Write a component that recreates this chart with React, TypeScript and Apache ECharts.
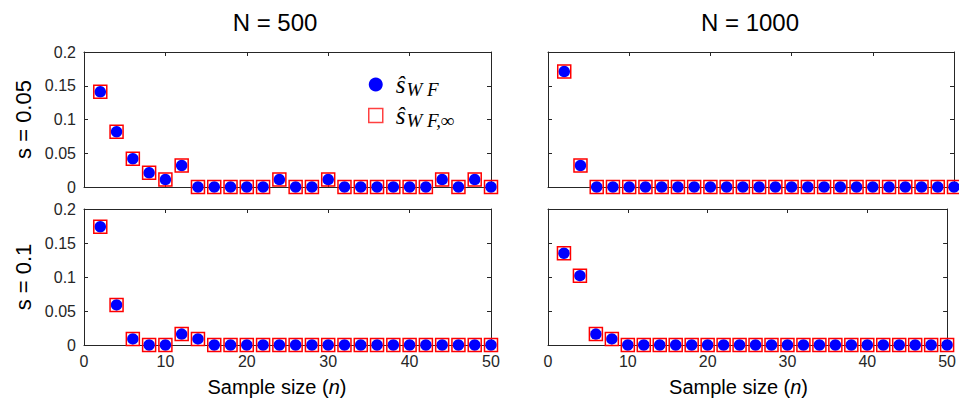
import React, { useEffect, useRef } from 'react';
import * as echarts from 'echarts';

// Sample sizes n (x values shared by every panel)
const sampleSizes = [2, 4, 6, 8, 10, 12, 14, 16, 18, 20, 22, 24, 26, 28, 30, 32, 34, 36, 38, 40, 42, 44, 46, 48, 50];

// Estimates ŝ_WF per panel
const wfN500s005 = [0.141, 0.082, 0.042, 0.021, 0.011, 0.032, 0, 0, 0, 0, 0, 0.011, 0, 0, 0.011, 0, 0, 0, 0, 0, 0, 0.011, 0, 0.011, 0];
const wfN1000s005 = [0.171, 0.032, 0, 0, 0, 0, 0, 0, 0, 0, 0, 0, 0, 0, 0, 0, 0, 0, 0, 0, 0, 0, 0, 0, 0];
const wfN500s01 = [0.174, 0.059, 0.009, 0, 0, 0.016, 0.009, 0, 0, 0, 0, 0, 0, 0, 0, 0, 0, 0, 0, 0, 0, 0, 0, 0, 0];
const wfN1000s01 = [0.135, 0.102, 0.016, 0.009, 0, 0, 0, 0, 0, 0, 0, 0, 0, 0, 0, 0, 0, 0, 0, 0, 0, 0, 0, 0, 0];

// Estimates ŝ_WF,∞ per panel (coincide with ŝ_WF in the figure)
const wfInfN500s005 = [0.141, 0.082, 0.042, 0.021, 0.011, 0.032, 0, 0, 0, 0, 0, 0.011, 0, 0, 0.011, 0, 0, 0, 0, 0, 0, 0.011, 0, 0.011, 0];
const wfInfN1000s005 = [0.171, 0.032, 0, 0, 0, 0, 0, 0, 0, 0, 0, 0, 0, 0, 0, 0, 0, 0, 0, 0, 0, 0, 0, 0, 0];
const wfInfN500s01 = [0.174, 0.059, 0.009, 0, 0, 0.016, 0.009, 0, 0, 0, 0, 0, 0, 0, 0, 0, 0, 0, 0, 0, 0, 0, 0, 0, 0];
const wfInfN1000s01 = [0.135, 0.102, 0.016, 0.009, 0, 0, 0, 0, 0, 0, 0, 0, 0, 0, 0, 0, 0, 0, 0, 0, 0, 0, 0, 0, 0];

const columnTitles = ['N = 500', 'N = 1000'];
const rowTitles = ['s = 0.05', 's = 0.1'];

const AX = '#262626';
const SANS = '"Liberation Sans", Arial, Helvetica, sans-serif';
const SERIF = '"Liberation Serif", "DejaVu Serif", serif';

export default function App() {
  const ref = useRef<HTMLDivElement>(null);

  useEffect(() => {
    if (!ref.current) return;
    const chart = echarts.init(ref.current, null, { renderer: 'svg' });

    const panels = [
      { left: 84, top: 52, width: 407, height: 135, wf: wfN500s005, inf: wfInfN500s005, col: 0, row: 0 },
      { left: 548, top: 52, width: 406, height: 135, wf: wfN1000s005, inf: wfInfN1000s005, col: 1, row: 0 },
      { left: 84, top: 209, width: 407, height: 136, wf: wfN500s01, inf: wfInfN500s01, col: 0, row: 1 },
      { left: 548, top: 209, width: 406, height: 136, wf: wfN1000s01, inf: wfInfN1000s01, col: 1, row: 1 },
    ];

    const titlePad = [[0, 25, 0, 0], [0, 2, 0, 0]];
    const xNamePad = [[0, 21, 0, 0], [0, 18, 0, 0]];

    const grids: any[] = [];
    const xAxes: any[] = [];
    const yAxes: any[] = [];
    const series: any[] = [];

    const axisLine = { show: true, onZero: false, lineStyle: { color: AX, width: 1 } };
    const axisTick = { show: true, inside: true, length: 4, lineStyle: { color: AX, width: 1 } };
    const axisLabel = { show: true, color: AX, fontSize: 16, fontFamily: SANS, margin: 8 };

    panels.forEach((p, i) => {
      grids.push({ left: p.left, top: p.top, width: p.width, height: p.height, containLabel: false });
      // bottom x axis
      xAxes.push({
        type: 'value', gridIndex: i, position: 'bottom', min: 0, max: 50, interval: 10,
        axisLine, axisTick,
        axisLabel: { ...axisLabel, show: p.row === 1 },
        splitLine: { show: false },
        name: p.row === 1 ? '{a|Sample size (}{i|n}{a|)}' : '',
        nameLocation: 'middle', nameGap: 32,
        nameTextStyle: {
          padding: xNamePad[p.col],
          rich: {
            a: { fontSize: 20, fontFamily: SANS, color: '#000' },
            i: { fontSize: 20, fontFamily: SANS, fontStyle: 'italic', color: '#000' },
          },
        },
      });
      // top x axis (mirror)
      xAxes.push({
        type: 'value', gridIndex: i, position: 'top', min: 0, max: 50, interval: 10,
        axisLine, axisTick, axisLabel: { show: false }, splitLine: { show: false },
        name: p.row === 0 ? columnTitles[p.col] : '',
        nameLocation: 'middle', nameGap: 18,
        nameTextStyle: { fontSize: 24, fontFamily: SANS, color: '#000', padding: titlePad[p.col] },
      });
      // left y axis
      yAxes.push({
        type: 'value', gridIndex: i, position: 'left', min: 0, max: 0.2, interval: 0.05,
        axisLine, axisTick,
        axisLabel: { ...axisLabel, show: p.col === 0 },
        splitLine: { show: false },
        name: p.col === 0 ? rowTitles[p.row] : '',
        nameLocation: 'middle', nameGap: 50,
        nameTextStyle: { fontSize: 22, fontFamily: SANS, color: '#000' },
      });
      // right y axis (mirror)
      yAxes.push({
        type: 'value', gridIndex: i, position: 'right', min: 0, max: 0.2, interval: 0.05,
        axisLine, axisTick, axisLabel: { show: false }, splitLine: { show: false },
      });

      series.push({
        type: 'scatter', name: 'wf', xAxisIndex: 2 * i, yAxisIndex: 2 * i,
        symbol: 'circle', symbolSize: 11.5, clip: false, z: 4,
        itemStyle: { color: '#0000FF', opacity: 1 },
        data: sampleSizes.map((n, k) => [n, p.wf[k]]),
      });
      series.push({
        type: 'scatter', name: 'wfinf', xAxisIndex: 2 * i, yAxisIndex: 2 * i,
        symbol: 'rect', symbolSize: 13, clip: false, z: 5,
        itemStyle: { color: 'rgba(0,0,0,0)', borderColor: '#FF0000', borderWidth: 1.5, opacity: 1 },
        data: sampleSizes.map((n, k) => [n, p.inf[k]]),
      });
    });

    chart.setOption({
      animation: false,
      backgroundColor: '#fff',
      grid: grids,
      xAxis: xAxes,
      yAxis: yAxes,
      series,
      legend: {
        show: true,
        orient: 'vertical',
        left: 368,
        top: 70,
        padding: 0,
        itemGap: 2,
        itemWidth: 14,
        itemHeight: 14,
        selectedMode: false,
        data: [
          { name: 'wf', icon: 'circle', itemStyle: { color: '#0000FF', borderWidth: 0 } },
          { name: 'wfinf', icon: 'rect', itemStyle: { color: 'rgba(0,0,0,0)', borderColor: '#FF4040', borderWidth: 1.5 } },
        ],
        formatter: (name: string) =>
          name === 'wf' ? '{s|ŝ}{sub|W F}' : '{s|ŝ}{sub|W F,∞}',
        textStyle: {
          rich: {
            s: { fontFamily: SERIF, fontStyle: 'italic', fontSize: 25, lineHeight: 26, color: '#000', padding: [0, 1, 0, 8] },
            sub: { fontFamily: SERIF, fontStyle: 'italic', fontSize: 19, lineHeight: 20, padding: [10, 0, 0, 0], color: '#000' },
          },
        },
      },
    });

    return () => chart.dispose();
  }, []);

  return (
    <div
      ref={ref}
      style={{ position: 'absolute', left: 0, top: 0, width: 959, height: 400, background: '#fff' }}
    />
  );
}
